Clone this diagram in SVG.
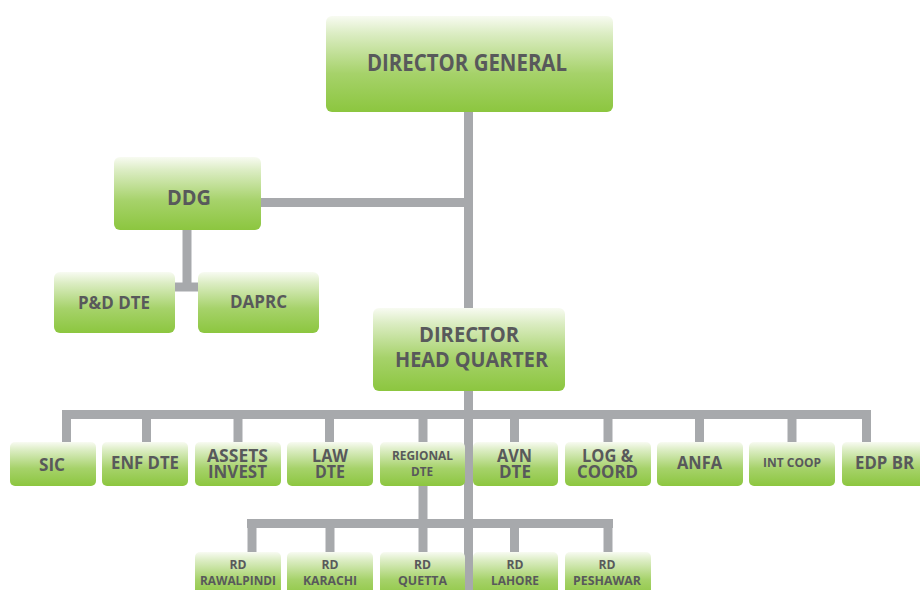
<svg xmlns="http://www.w3.org/2000/svg" width="920" height="590" viewBox="0 0 920 590">
<defs>
<linearGradient id="g" x1="0" y1="0" x2="0" y2="1">
<stop offset="0" stop-color="#f8fbf2"/>
<stop offset="0.18" stop-color="#dcedc4"/>
<stop offset="0.6" stop-color="#a6d26a"/>
<stop offset="1" stop-color="#8cc63f"/>
</linearGradient>
<style>
.b{fill:url(#g);}
.t{font-family:"Open Sans","Liberation Sans",sans-serif;font-weight:bold;fill:#58595b;text-anchor:middle;}
.c{stroke:#a7a9ac;stroke-width:9;fill:none;}
</style>
</defs>
<rect width="920" height="590" fill="#ffffff"/>
<g id="connectors" class="c">
<line x1="468.5" y1="112" x2="468.5" y2="308"/>
<line x1="468.5" y1="391" x2="468.5" y2="590"/>
<line x1="261" y1="202.5" x2="468" y2="202.5"/>
<line x1="187" y1="230" x2="187" y2="291"/>
<line x1="175" y1="287" x2="198" y2="287"/>
<line x1="62" y1="414.5" x2="871" y2="414.5"/>
<line x1="66.5" y1="414" x2="66.5" y2="442"/>
<line x1="146.5" y1="414" x2="146.5" y2="442"/>
<line x1="238" y1="414" x2="238" y2="442"/>
<line x1="329.5" y1="414" x2="329.5" y2="442"/>
<line x1="423" y1="414" x2="423" y2="442"/>
<line x1="514.5" y1="414" x2="514.5" y2="442"/>
<line x1="608" y1="414" x2="608" y2="442"/>
<line x1="699.5" y1="414" x2="699.5" y2="442"/>
<line x1="792" y1="414" x2="792" y2="442"/>
<line x1="866.5" y1="414" x2="866.5" y2="442"/>
<line x1="423" y1="486" x2="423" y2="552"/>
<line x1="247" y1="523.5" x2="613" y2="523.5"/>
<line x1="252" y1="523" x2="252" y2="552"/>
<line x1="330" y1="523" x2="330" y2="552"/>
<line x1="514.5" y1="523" x2="514.5" y2="552"/>
<line x1="608" y1="523" x2="608" y2="552"/>
</g>
<g id="dg"><rect class="b" x="326" y="16" width="287" height="96" rx="6"/><text class="t" x="467" y="71" font-size="23" textLength="200" lengthAdjust="spacingAndGlyphs">DIRECTOR GENERAL</text></g>
<g id="ddg"><rect class="b" x="114" y="157" width="147" height="73" rx="6"/><text class="t" x="189" y="205" font-size="21" textLength="44" lengthAdjust="spacingAndGlyphs">DDG</text></g>
<g id="pd"><rect class="b" x="54" y="272" width="121" height="61" rx="6"/><text class="t" x="114" y="309" font-size="18" textLength="72" lengthAdjust="spacingAndGlyphs">P&amp;D DTE</text></g>
<g id="daprc"><rect class="b" x="198" y="272" width="121" height="61" rx="6"/><text class="t" x="258.5" y="308" font-size="18" textLength="57" lengthAdjust="spacingAndGlyphs">DAPRC</text></g>
<g id="dhq"><rect class="b" x="373" y="308" width="192" height="83" rx="6"/><text class="t" x="469" y="342" font-size="21" textLength="100" lengthAdjust="spacingAndGlyphs">DIRECTOR</text><text class="t" x="471.5" y="367" font-size="21" textLength="153" lengthAdjust="spacingAndGlyphs">HEAD QUARTER</text></g>
<g id="sic"><rect class="b" x="10" y="442" width="86" height="44" rx="5"/><text class="t" x="52" y="471" font-size="18" textLength="26" lengthAdjust="spacingAndGlyphs">SIC</text></g>
<g id="enf"><rect class="b" x="102" y="442" width="86" height="44" rx="5"/><text class="t" x="145" y="469" font-size="18" textLength="68" lengthAdjust="spacingAndGlyphs">ENF DTE</text></g>
<g id="assets"><rect class="b" x="195" y="442" width="86" height="44" rx="5"/><text class="t" x="237.5" y="462" font-size="18" textLength="61" lengthAdjust="spacingAndGlyphs">ASSETS</text><text class="t" x="237.5" y="478" font-size="18" textLength="59" lengthAdjust="spacingAndGlyphs">INVEST</text></g>
<g id="law"><rect class="b" x="287" y="442" width="86" height="44" rx="5"/><text class="t" x="330" y="462" font-size="18" textLength="36" lengthAdjust="spacingAndGlyphs">LAW</text><text class="t" x="330" y="478" font-size="18" textLength="30" lengthAdjust="spacingAndGlyphs">DTE</text></g>
<g id="regional"><rect class="b" x="380" y="442" width="85" height="44" rx="5"/><text class="t" x="422.5" y="460" font-size="13" textLength="61" lengthAdjust="spacingAndGlyphs">REGIONAL</text><text class="t" x="422" y="476" font-size="13" textLength="22" lengthAdjust="spacingAndGlyphs">DTE</text></g>
<g id="avn"><rect class="b" x="473" y="442" width="85" height="44" rx="5"/><text class="t" x="514.5" y="462" font-size="18" textLength="35" lengthAdjust="spacingAndGlyphs">AVN</text><text class="t" x="515" y="478" font-size="18" textLength="32" lengthAdjust="spacingAndGlyphs">DTE</text></g>
<g id="log"><rect class="b" x="565" y="442" width="86" height="44" rx="5"/><text class="t" x="607.5" y="462" font-size="18" textLength="51" lengthAdjust="spacingAndGlyphs">LOG &amp;</text><text class="t" x="607.5" y="478" font-size="18" textLength="61" lengthAdjust="spacingAndGlyphs">COORD</text></g>
<g id="anfa"><rect class="b" x="657" y="442" width="86" height="44" rx="5"/><text class="t" x="699.5" y="469" font-size="18" textLength="45" lengthAdjust="spacingAndGlyphs">ANFA</text></g>
<g id="intcoop"><rect class="b" x="749" y="442" width="86" height="44" rx="5"/><text class="t" x="792" y="467" font-size="12.5" textLength="58" lengthAdjust="spacingAndGlyphs">INT COOP</text></g>
<g id="edp"><rect class="b" x="842" y="442" width="86" height="44" rx="5"/><text class="t" x="884.5" y="469" font-size="18" textLength="59" lengthAdjust="spacingAndGlyphs">EDP BR</text></g>
<g id="rdrwp"><rect class="b" x="195" y="552" width="86" height="46" rx="5"/><text class="t" x="238" y="569" font-size="12.5" textLength="17" lengthAdjust="spacingAndGlyphs">RD</text><text class="t" x="238" y="585" font-size="12.5" textLength="76" lengthAdjust="spacingAndGlyphs">RAWALPINDI</text></g>
<g id="rdkhi"><rect class="b" x="287" y="552" width="86" height="46" rx="5"/><text class="t" x="330" y="569" font-size="12.5" textLength="17" lengthAdjust="spacingAndGlyphs">RD</text><text class="t" x="330" y="585" font-size="12.5" textLength="54" lengthAdjust="spacingAndGlyphs">KARACHI</text></g>
<g id="rdqta"><rect class="b" x="380" y="552" width="85" height="46" rx="5"/><text class="t" x="422.5" y="569" font-size="12.5" textLength="17" lengthAdjust="spacingAndGlyphs">RD</text><text class="t" x="422.5" y="585" font-size="12.5" textLength="49" lengthAdjust="spacingAndGlyphs">QUETTA</text></g>
<g id="rdlhr"><rect class="b" x="473" y="552" width="85" height="46" rx="5"/><text class="t" x="515" y="569" font-size="12.5" textLength="17" lengthAdjust="spacingAndGlyphs">RD</text><text class="t" x="515" y="585" font-size="12.5" textLength="48" lengthAdjust="spacingAndGlyphs">LAHORE</text></g>
<g id="rdpsh"><rect class="b" x="565" y="552" width="86" height="46" rx="5"/><text class="t" x="607" y="569" font-size="12.5" textLength="17" lengthAdjust="spacingAndGlyphs">RD</text><text class="t" x="607" y="585" font-size="12.5" textLength="68" lengthAdjust="spacingAndGlyphs">PESHAWAR</text></g>
</svg>
